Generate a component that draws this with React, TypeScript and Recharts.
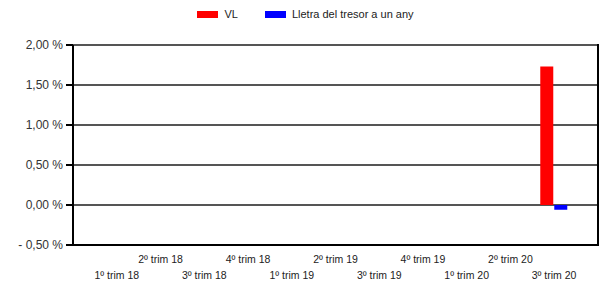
import React from "react";
import * as R from "recharts";
import { BarChart, Bar, XAxis, YAxis, CartesianGrid } from "recharts";

const categories = [
  "1º trim 18", "2º trim 18", "3º trim 18", "4º trim 18",
  "1º trim 19", "2º trim 19", "3º trim 19", "4º trim 19",
  "1º trim 20", "2º trim 20", "3º trim 20",
];
const vlValues: (number | null)[] = [null, null, null, null, null, null, null, null, null, null, 1.73];
const lletraValues: (number | null)[] = [null, null, null, null, null, null, null, null, null, null, -0.06];
const yTicks = [-0.5, 0, 0.5, 1, 1.5, 2];
const seriesNames = ["VL", "Lletra del tresor a un any"];
const seriesColors = ["#ff0000", "#0000ff"];

const data = categories.map((c, i) => ({ name: c, vl: vlValues[i], lletra: lletraValues[i] }));

const fmtY = (v: number) => {
  const s = Math.abs(v).toFixed(2).replace(".", ",") + " %";
  return v < 0 ? "- " + s : s;
};

const XTick = (props: any) => {
  const { x, y, payload, index } = props;
  const low = index % 2 === 0;
  return (
    <text x={x} y={y + (low ? 26 : 10)} textAnchor="middle" fontSize={10.5} fill="#222" fontFamily="Liberation Sans, Arial, sans-serif">
      {payload.value}
    </text>
  );
};

const LegendBox = () => (
  <div style={{ position: "absolute", left: 0, top: 8, width: 603, display: "flex", justifyContent: "center", alignItems: "center", fontFamily: "Liberation Sans, Arial, sans-serif", fontSize: 11, color: "#222", paddingLeft: 4 }}>
    {seriesNames.map((n, i) => (
      <div key={n} style={{ display: "flex", alignItems: "center", marginRight: i === 0 ? 27 : 0 }}>
        <span style={{ display: "inline-block", width: 21, height: 7, background: seriesColors[i], marginRight: 6 }} />
        <span>{n}</span>
      </div>
    ))}
  </div>
);

const usePlotAreaHook: any = (R as any).usePlotArea;

// Right frame edge of the plot area
const RightFrame = () => {
  const area = usePlotAreaHook ? usePlotAreaHook() : null;
  if (!area) return null;
  const xr = area.x + area.width;
  return <line x1={xr} x2={xr} y1={area.y - 1} y2={area.y + area.height + 1} stroke="#000" strokeWidth={2} />;
};

export default function App() {
  return (
    <div style={{ position: "absolute", left: 0, top: 0, width: 603, height: 289, background: "#fff" }}>
      <BarChart
        width={603}
        height={289}
        data={data}
        margin={{ top: 45, right: 5, bottom: 0, left: 0 }}
        barGap={1}
        barSize={13}
      >
        <CartesianGrid horizontal vertical={false} stroke="#555" strokeWidth={2} />
        <XAxis
          dataKey="name"
          interval={0}
          padding={{ left: 22, right: 22 }}
          tickLine={false}
          axisLine={{ stroke: "#000", strokeWidth: 2 }}
          tick={<XTick />}
          height={44}
        />
        <YAxis
          width={73}
          domain={[-0.5, 2]}
          ticks={yTicks}
          tickFormatter={fmtY}
          tickSize={7}
          tickMargin={3}
          tickLine={{ stroke: "#000", strokeWidth: 2 }}
          axisLine={{ stroke: "#000", strokeWidth: 2 }}
          tick={{ fontSize: 12, fill: "#333", fontFamily: "Liberation Sans, Arial, sans-serif" }}
          allowDataOverflow
        />
        <Bar dataKey="vl" name={seriesNames[0]} fill={seriesColors[0]} isAnimationActive={false} />
        <Bar dataKey="lletra" name={seriesNames[1]} fill={seriesColors[1]} isAnimationActive={false} />
        <RightFrame />
      </BarChart>
      <LegendBox />
    </div>
  );
}
